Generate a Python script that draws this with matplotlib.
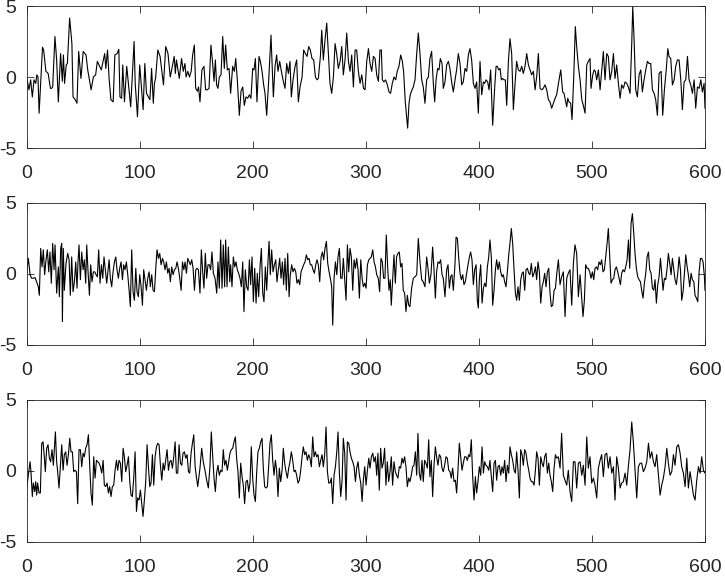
import matplotlib
matplotlib.use('Agg')
import matplotlib.pyplot as plt

plt.rcParams['font.family'] = ['Liberation Sans', 'DejaVu Sans']
plt.rcParams['axes.unicode_minus'] = False

# (sample index, value)
top_trace = [
    (0, 0.0), (2, -0.9), (3.5, -0.2), (5, -1.4), (6.5, -0.2), (8, -0.45), (9, 0.15), (10, 0.0),
    (11, -2.55), (14, 2.1), (15, 1.9), (17, 0.4), (19, 0.25), (21, -0.8), (22, -0.8), (23, -0.7),
    (25, 2.85), (26.5, 1.2), (28, -1.75), (30, 1.65), (31.5, -0.3), (32.5, 1.55), (33.5, -0.45),
    (35, 0.85), (36, 0.95), (38, 4.15), (40, 2.35), (41, -1.4), (43, -1.6), (44.5, -1.85),
    (46, 1.8), (48, -0.1), (50, 1.8), (52.5, 1.55), (54, 0.5), (57, -0.9), (59, 0.0), (61, 0.15),
    (62.5, 1.1), (64, 0.85), (66, 0.5), (69, 1.65), (70, 0.6), (71.5, 1.9), (73, -0.2),
    (74.5, -1.6), (76.5, -1.75), (78, 1.55), (80, 1.65), (81.5, 1.95), (82.5, -1.4), (84, -1.5),
    (85, 0.85), (86.5, -1.75), (88.5, 0.75), (90, -0.45), (92, -2.1), (95, 2.5), (96, -0.45),
    (98, -2.8), (100, 0.85), (103, -2.3), (104.5, 0.95), (106, -1.15), (109, -1.6), (110.5, 0.6),
    (112, -1.85), (113, -0.45), (114, -0.1), (116, 1.9), (118, 1.45), (121, -0.55), (123, 2.15),
    (125, 1.65), (127, 0.0), (128, 0.4), (130.5, 1.45), (131.5, 0.25), (132.5, 1.2), (135, -0.1),
    (137, 1.3), (138.5, 0.4), (140, 0.95), (141, 0.0), (142.5, 0.4), (144, 0.0), (145.5, 0.4),
    (146.8, 1.55), (148.3, 2.25), (149.5, -0.8), (151, -1.0), (152, -0.7), (153.3, -1.75),
    (155, 0.5), (156.8, 0.75), (158.3, -0.9), (159.8, -0.9), (161.3, -0.8), (163, 2.25),
    (164.5, 0.95), (165.7, -0.3), (166.9, 1.2), (168, -0.55), (169.2, -0.8), (170.4, 0.0),
    (171.9, 0.15), (173.4, 2.85), (174.8, 0.6), (176, 2.25), (177.5, 0.5), (179, 0.6),
    (180.4, -1.15), (182.2, 0.75), (183.7, 0.4), (184.9, 1.3), (186.3, -0.2), (188.1, -2.7),
    (189.6, -1.0), (191.1, -0.7), (192.5, -2.0), (194, -1.4), (195.5, -1.5), (197, -1.25),
    (198.4, -1.5), (199.9, 0.6), (201.1, 0.5), (202.3, 1.3), (203.7, -1.75), (205.5, 1.45),
    (206.7, 1.1), (208.2, 0.4), (209.6, -0.55), (210.8, -1.15), (212.3, -2.7), (214.1, -0.2),
    (216.1, 2.95), (218.2, -1.4), (219.7, 0.75), (221.1, 1.55), (222.3, 0.4), (223.8, 1.1),
    (225.3, 0.4), (227, -0.3), (228.5, -0.8), (230, 0.95), (231.5, 0.25), (232.9, 1.1),
    (234.1, -1.4), (235.6, -0.2), (237.4, 0.75), (238.8, 1.2), (240.3, -1.75), (241.8, -0.7),
    (243.6, 0.0), (245, 1.9), (246.5, 1.65), (248, 1.45), (249.5, 2.15), (250.9, 1.9),
    (252.4, 1.3), (253.9, 1.2), (255.4, 0.0), (256.8, -0.2), (258, -0.1), (259.8, 1.45),
    (261, 3.3), (262.4, 1.2), (263.9, 2.6), (265.4, 3.8), (266.9, 1.65), (268.3, -0.45),
    (269.8, -1.15), (271.3, 0.0), (272.8, 2.35), (274.2, 1.65), (275.7, 0.6), (277.2, 1.1),
    (278.7, 2.15), (280.1, 0.15), (281.6, 1.2), (283.1, 3.1), (284.6, 1.1), (286, 0.4),
    (287.5, 1.55), (289, -0.7), (290.5, 1.9), (291.9, 1.9), (293.4, 0.4), (294.9, -0.45),
    (296.4, 0.15), (297.9, -0.8), (299.3, -0.9), (300.8, 1.1), (302.3, 2.0), (303.7, 0.95),
    (305.2, 0.4), (306.7, 1.45), (308.2, 1.3), (309.6, 0.15), (311.1, -0.3),
    (312.5, 1.9), (313.7, 1.9), (314.6, -0.2), (316, -0.35), (317.5, -0.2), (319, -0.55),
    (320.5, -1.05), (321.9, -1.15), (323.4, -0.45), (324.9, 0.0), (326.4, -0.2), (327.8, 0.4),
    (329.3, 0.75), (330.8, 1.55), (332.3, 1.1), (333.4, 0.4), (334.9, -1.75), (336.1, -2.8),
    (337, -3.6), (338.2, -1.85), (339.3, -1.25), (340.8, -0.9), (342, -0.7), (343.5, -0.2),
    (345, 1.65), (346.4, 3.1), (347.9, 1.65), (349.4, -0.2), (350.8, -0.7), (352.3, -1.85),
    (353.8, -0.2), (355.3, 0.0), (356.7, 1.3), (358.2, 1.8), (359.7, -0.45), (360.9, -1.75),
    (362.1, -0.2), (363.5, 0.6), (364.7, 0.5), (365.9, 1.3), (367.4, 0.95), (368.5, -0.8),
    (370, -0.35), (371.5, 0.85), (373, 1.1), (374.4, 0.6), (375.9, -0.35), (377.4, -1.05),
    (378.9, -0.2), (380.3, 0.5), (381.8, 1.65), (383.3, 0.95), (384.8, -0.55), (386.2, -0.35),
    (387.7, 0.6), (389.2, 0.4), (390.7, 1.55), (392.1, 2.0), (393.6, 1.2), (395.1, -0.45),
    (396.6, -0.8), (398, -0.35), (399.5, -2.55), (401, 1.1), (402.5, -1.25), (404, -0.35),
    (405.1, -0.45), (406.3, -0.2), (407.8, -0.35), (409, -0.9), (410.4, 0.5), (412.2, -3.4),
    (414, -0.7), (415.2, 0.75), (416.3, 0.75), (417.5, 0.5), (418.7, 0.6), (419.9, -0.2),
    (421, -0.1), (422.2, -0.2), (423.4, -0.2), (424.6, -2.0), (426.1, 1.1), (427.5, 2.7),
    (429, 1.65), (430.5, -2.3), (432, -0.45), (433.4, 1.1), (434.9, 0.5), (436.4, 0.4),
    (437.9, 0.75), (439.3, 0.25), (440.8, 0.75), (442.3, 1.65), (443.8, 0.85), (445.2, 0.5),
    (446.7, 0.15), (448.2, 0.4), (449.7, -0.9), (451.1, 0.0), (452.6, 1.65), (454.1, -0.8),
    (455.6, -0.9), (457, -0.8), (458.5, -0.55), (460, -0.9), (461.5, -1.6), (462.9, -1.75),
    (464.4, -2.2), (465.9, -1.85), (467.4, -1.5), (468.8, -1.25),
    (470.9, -0.2), (472.4, 0.5), (473.2, -0.2), (474.1, -1.05), (475.3, -1.15), (476.2, -1.5),
    (477.7, -2.1), (478.6, -1.5), (479.7, -1.75), (481.2, -1.85), (482.4, -3.0), (483.9, 0.0),
    (485.3, 3.55), (486.5, 2.15), (488, 0.75), (489.5, -0.2), (491, -1.6), (492.4, -2.0),
    (493.9, -2.55), (495.4, 0.85), (496.8, 1.1), (498.3, 1.3), (499.2, -0.8), (500.7, 0.15),
    (501.9, 0.5), (503, 0.4), (504.2, -0.2), (505.7, 0.5), (507.2, -0.9), (508.6, 0.4),
    (510.1, 1.8), (511.6, -0.2), (513.1, 1.65), (514.5, 1.45), (516, -0.2), (517.5, 0.4),
    (519, 1.65), (520.4, -0.1), (521.9, 0.85), (523.4, -0.45), (524.9, -1.5), (526.3, -0.55),
    (527.8, -0.8), (529.3, -0.35), (530.8, -0.45), (532.2, -0.7), (533.7, -1.15), (535.2, 2.35),
    (536.1, 4.95), (537.3, 2.6), (538.7, -0.9), (540.2, -1.4), (541.7, 0.15), (543.2, 0.5),
    (544.6, -1.05), (546.1, -0.2), (547.6, 0.5), (549.1, 1.1), (550.5, 0.95), (552, 0.95),
    (553.5, -0.9), (555, -1.15), (556.4, -1.6), (557.9, -2.7), (559.4, 0.25), (561.2, 0.4),
    (562.6, -2.7), (564.1, -0.9), (565.6, 0.4), (567.1, 2.0), (568.2, 1.45), (569.7, 1.3),
    (571.2, -0.55), (572.7, -0.2), (574.1, 0.75), (575.6, 1.2), (577.1, 1.2), (578.6, -0.2),
    (580, -2.3), (581.5, -0.35), (583, -0.2), (584.5, 1.45), (585.9, -0.2), (587.4, -0.55),
    (588.9, -1.15), (590.4, -0.2), (591.8, -2.2), (593.3, -0.7), (594.8, -0.8), (596.3, -0.2),
    (597.7, -1.05), (599.2, -0.45), (600, -2.2),
]

middle_trace = [
    (0, 0.15), (1.5, 1.1), (3, -0.05), (4.4, -0.3), (5.9, -0.3), (7.4, -0.25), (8.8, -0.55),
    (10.3, -0.9), (11.2, -1.5), (12.4, 1.8), (13.6, 0.5), (14.7, 1.7), (15.9, -0.05), (17.1, 1.0),
    (18.3, 1.7), (19.5, 0.15), (20.6, 1.55), (21.8, -0.65), (23, 2.15), (24.2, 0.3), (25.1, 2.05),
    (26.5, -1.35), (28, 0.5), (28.9, -1.6), (30.1, 1.8), (31, 2.15), (31.6, -3.35), (32.4, 1.8),
    (33.3, -1.15), (34.8, 0.75), (36.3, 1.45), (37.5, 1.0), (38.6, -1.5), (39.8, 1.2),
    (41, -1.25), (42.2, -0.55), (43.4, 0.85), (44.5, -1.0), (45.4, 0.85), (46.3, 2.05),
    (47.5, -0.4), (48.7, 1.55), (49.9, 0.3), (51, 1.0), (52.2, -0.65), (53.1, 2.05), (54.3, 0.15),
    (55.5, -1.5), (56.6, 0.65), (57.8, -0.55), (59, 0.15), (60.2, 0.15), (61.4, -0.05),
    (62.5, -0.2), (63.7, 1.7), (64.9, -0.65), (66.1, 0.65), (67.3, -0.3), (68.4, 1.2), (69.6, 0.3),
    (70.8, -0.65), (72, 0.3), (72.9, 1.0), (74, -0.3), (75.2, -0.9), (76.4, 0.15), (77.6, 0.85),
    (78.8, 1.2), (79.9, 0.3), (81.1, -0.3), (82.3, 0.4), (83.5, 0.85), (84.7, -0.4), (85.8, 0.65),
    (87, 0.3), (88.2, 0.85), (89.4, -0.05), (90.6, -1.15), (91.7, -2.3), (92.9, 1.7),
    (94.1, -1.25), (95.3, -1.85), (96.5, 0.4), (97.6, -1.25), (98.8, -1.6), (100, -0.05),
    (101.2, -0.9), (102.4, -2.2), (103.5, 0.3), (104.7, -0.4), (105.9, -1.15), (107.1, -0.3),
    (108.3, 0.15), (109.4, -0.9), (110.6, -0.05), (111.8, -1.15), (113, -1.25), (114.2, 0.4),
    (115.3, 1.7), (116.5, 1.1), (117.7, 1.45), (118.9, 0.65), (120.1, 1.1), (121.2, 0.85),
    (122.4, 0.3), (123.6, 0.85), (124.8, 0.05), (126, 0.4), (127.1, -0.55), (128.3, 0.5),
    (129.5, -0.05), (130.7, 0.3), (131.9, 0.4), (133, 0.85), (134.2, 0.4), (135.4, -0.3),
    (136.6, -1.15), (137.8, 0.85), (139, 0.3), (140.1, 0.85), (141.3, 0.05), (142.5, 1.1),
    (143.7, 0.85), (144.8, 0.65), (146, 1.0), (147.2, 0.4), (148.4, -1.15), (149.6, 0.3),
    (150.7, 0.4), (151.9, 0.3),
    (153.3, -1.35), (154.5, 1.7), (155.7, 0.15), (156.8, -1.0), (158, 1.45), (159.2, -0.3),
    (160.4, 0.65), (161.6, 0.65), (162.7, 0.3), (163.9, 1.55), (165.1, 0.05), (166.6, -0.3),
    (168.1, -1.35), (169.2, 0.85), (170.4, -1.0), (171.6, 2.4), (172.8, -1.0), (173.9, 2.05),
    (175.1, -0.9), (176, 2.4), (177.2, -0.9), (178.4, 1.9), (179.6, -0.55), (180.4, 0.65),
    (181.6, -0.9), (182.8, 1.2), (184, 0.5), (185.2, 0.85), (186.3, 0.3), (187.5, 0.05),
    (188.7, -0.3), (189.9, -0.9), (191.1, 0.85), (192.2, -2.65), (193.4, 0.3), (194.6, -0.9),
    (195.8, -1.15), (197, 1.0), (198.1, -0.75), (199.3, 1.2), (200.5, -1.95), (201.7, 0.4),
    (202.9, -2.05), (204, 0.05), (205.2, -1.6), (206.4, 0.5), (207.6, 1.8), (208.8, -1.35),
    (209.9, -1.95), (211.1, 0.5), (212.3, -1.15), (213.5, 1.0), (214.4, 2.3), (215.5, -0.05),
    (216.7, 1.7), (217.9, 0.15), (219.1, 0.65), (220.3, 1.0), (221.4, -0.55), (222.6, 0.3),
    (223.8, 1.1), (225, -0.3), (226.2, 0.85), (227.3, -0.75), (228.5, 1.1), (229.7, -1.15),
    (230.9, 1.45), (232.1, -1.6), (233.2, -0.05), (234.4, 0.65), (235.6, 0.15), (236.8, 0.4),
    (238, 0.15), (239.1, -0.65), (240.3, -0.4), (241.5, -0.75), (242.7, 0.15), (243.9, 0.4),
    (245, 0.65), (246.2, 0.85), (247.4, 1.35), (248.6, 1.0), (249.8, 1.1), (250.9, 0.65),
    (252.1, 0.65), (253.3, 0.3), (254.5, 0.05), (255.7, 0.65), (256.8, 1.0), (258, 0.65),
    (259.2, -0.55), (260.4, 1.2), (261.6, 1.55), (262.7, 1.0), (263.9, 1.8), (265.1, 2.3),
    (266.3, 0.75), (267.5, 0.15), (268.6, -0.3), (269.8, -0.9), (270.7, -3.6), (271.9, -0.3),
    (273.1, 0.85), (274.3, -0.05), (275.4, 1.2), (276.6, 1.8), (277.8, -0.3), (279, -0.3),
    (280.1, 1.1), (281.3, -0.4), (282.5, -1.85), (283.7, 2.05), (284.9, 0.15), (286, 1.8),
    (287.2, 1.2), (288.4, -1.15), (289.6, 1.0), (290.8, 0.4), (291.9, 1.1), (293.1, 0.3),
    (294.3, -1.7), (295.5, 1.0), (296.7, -0.3), (297.8, -0.9), (299, -0.65), (300.2, -1.0),
    (301.4, 0.65), (302.6, 1.0), (303.7, 1.1), (304.9, 1.2), (306.1, 1.7), (307.3, 0.85),
    (308.5, 0.5), (309.6, -0.05),
    (311, -0.3), (312.2, -1.25), (313.4, 1.1), (314.6, 0.85), (315.7, -0.3), (316.9, -0.3),
    (318.1, 2.75), (319.3, 0.5), (320.5, -1.15), (321.6, -0.4), (322.5, -2.2), (323.7, -0.4),
    (324.9, 1.35), (326.1, -0.65), (327.2, 1.2), (328.4, 1.45), (329.6, 1.55), (330.8, 0.5),
    (332, 0.75), (333.1, -1.15), (334.3, -1.35), (335.5, -2.65), (336.7, -1.5), (337.9, -2.2),
    (339, -2.3), (340.5, -1.0), (342, -0.3), (343.5, -0.2), (345, -0.05), (346.4, 2.5),
    (347.9, 0.85), (349.4, -0.4), (350.8, -0.55), (352.3, -0.9), (353.8, 1.2), (355, 0.4),
    (356.2, -0.65), (357.6, -0.05), (359.1, 1.9), (360.3, 0.3), (361.5, -1.7), (362.6, 0.15),
    (363.8, 0.85), (365, 0.75), (366.2, 1.0), (367.4, -0.05), (368.5, -0.3), (370, -1.6),
    (371.5, 0.3), (372.7, 0.65), (373.9, -1.0), (375, -0.2), (376.2, -0.05), (377.4, -1.15),
    (378.9, 0.75), (379.8, 2.6), (381, 2.5), (382.1, 1.2), (383.3, 0.05), (384.5, -0.4),
    (385.7, -0.05), (386.8, -0.75), (388, -0.55), (389.2, 0.05), (390.4, 0.65), (391.6, 1.2),
    (392.7, 1.55), (393.9, 1.0), (395.1, -0.75), (396.3, 0.3), (397.5, 0.65), (398.6, -1.85),
    (399.5, -2.4), (400.4, -0.4), (401.6, 0.65), (402.8, -2.05), (404, -1.0), (405.1, -0.65),
    (406.3, -0.9), (407.5, 0.5), (408.7, 1.2), (409.8, 2.4), (411, 1.2), (412.2, -2.2),
    (413.4, -1.15), (414.6, 0.3), (415.7, 1.0), (416.9, 0.3), (418.1, 0.85), (419.3, 0.15),
    (420.5, -0.2), (421.6, -0.05), (422.8, -0.55), (424, -0.9), (425.2, 0.15), (426.4, 1.35),
    (427.5, 2.15), (428.7, 3.2), (429.9, 2.15), (431.1, 0.3), (432.3, -1.35), (433.4, -1.85),
    (434.6, -0.9), (435.8, -1.85), (437, -0.4), (438.2, 0.05), (439.3, 0.15), (440.5, -1.15),
    (441.7, 0.3), (442.9, 0.4), (444.1, 0.05), (445.2, -0.05), (446.4, 0.75), (447.6, -0.2),
    (448.8, 0.05), (450, 0.5), (451.1, -0.4), (452.3, 0.85), (453.5, 0.15), (454.7, -2.05),
    (455.9, -0.9), (457, -0.55), (458.2, 0.05), (459.4, -0.9), (460.6, 0.15), (461.8, 0.4),
    (462.9, -1.35), (464.1, -2.3), (465.3, -2.2), (466.5, -1.15), (467.7, -1.0), (468.8, -0.05),
    (470.3, 1.0), (471.8, -0.75), (473.2, -0.2), (474.7, 0.15), (476.2, -3.0), (477.7, -0.3),
    (479.1, 0.05), (480.6, 0.3), (482.1, -2.2), (483.6, 0.75), (485, 2.05), (486.5, 1.45),
    (488, -1.6), (489.5, -0.05), (491, -1.7), (492.1, -3.0), (493.3, -1.85), (494.5, 0.65),
    (495.7, 0.4), (496.8, 0.4), (498, 0.15), (499.2, -0.3), (500.4, 0.15), (501.6, -0.4),
    (502.7, 0.4), (503.9, 0.5), (505.1, 0.3), (506.3, 0.85), (507.5, 0.65), (508.6, 1.0),
    (509.8, 0.15), (511, 0.3), (512.2, 1.2), (513.4, 2.15), (514.5, 3.2), (515.7, 1.2),
    (516.9, -0.65), (518.1, -0.4), (519.3, -0.3), (520.4, 0.3), (521.6, 0.5), (522.8, 0.15),
    (524, -0.3), (525.2, -0.75), (526.3, 0.05), (527.5, 0.3), (528.7, 0.15), (529.9, 0.5),
    (531.1, 1.0), (532.3, 2.4), (533.4, 0.4), (534.6, 3.55), (535.8, 4.25), (537, 2.85),
    (538.1, 1.45), (539.3, 0.4), (540.5, -0.2), (541.7, -0.4), (542.9, -0.55), (544, -1.15),
    (545.2, -1.7), (546.4, -0.65), (547.6, 0.05), (548.8, 1.2), (550, 1.55), (551.1, 0.3),
    (552.3, 0.05), (553.5, -1.0), (554.7, -1.15), (555.8, -0.4), (557, -2.05), (558.2, -0.75),
    (559.4, -0.2), (560.6, 1.1), (561.7, 0.05), (562.9, -1.15), (564.1, -0.3), (565.3, -0.4),
    (566.5, 0.4), (567.6, 1.45), (568.8, 0.75), (570, -0.05), (571.2, 1.1), (572.4, 0.3),
    (573.5, -0.4), (574.7, -0.75), (575.9, 0.05), (577.1, 1.2), (578.3, 0.3), (579.4, -1.85),
    (580.6, -1.25), (581.8, 0.05), (583, 1.35), (584.2, 0.5), (585.3, -0.05), (586.5, -0.9),
    (587.7, 0.05), (588.9, -0.4), (590.1, -0.55), (591.2, -1.5), (592.4, -1.7), (593.6, -1.95),
    (594.8, 0.15), (596, 1.1), (597.1, 1.1), (598.3, 0.85), (599.5, -0.2), (600, -1.15),
]

bottom_trace = [
    (0, -1.2), (1.5, -0.3), (3, 0.65), (3.8, -0.05), (5, -1.8), (5.9, -0.85), (7.1, -1.45),
    (8, -0.75), (8.8, -1.7), (9.7, -0.85), (10.9, -1.55), (12.1, -1.55), (13.3, 1.95),
    (14.5, 2.05), (15.6, 1.0), (16.5, -0.05), (17.7, 1.6), (18.9, 1.85), (20.1, 0.9),
    (21.2, 0.65), (22.4, 1.5), (23.6, 0.4), (24.5, 1.6), (25.4, 2.75), (26.5, 0.65),
    (27.4, -0.05), (28.6, -1.2), (29.8, 0.3), (31, 1.85), (32.2, 0.05), (33.3, 1.15),
    (34.5, 1.35), (35.7, 0.4), (36.9, 1.15), (38.1, 2.3), (39.2, 1.35), (40.4, 1.35),
    (41.6, -0.05), (42.8, 0.05), (44, -0.05), (45.1, -2.3), (46.3, 1.5), (47.5, 1.5), (48.7, 0.3),
    (49.9, 1.25), (51, 1.0), (52.2, 1.6), (53.4, 1.85), (54.6, 2.55), (55.8, 0.3), (56.9, -1.55),
    (58.1, -2.4), (59.3, 1.0), (60.5, -0.5), (61.7, 0.75), (62.8, 0.65), (64, 0.55), (65.2, 0.3),
    (66.4, -0.15), (67.6, 0.75), (68.7, -1.0), (69.9, -1.1), (71.1, -0.85), (72.3, -1.55),
    (73.4, -1.1), (74.6, -1.8), (75.8, -1.1), (77, -1.0), (78.2, 0.05), (79.4, 0.75), (80.5, 0.05),
    (81.7, 0.75), (82.9, 0.55), (84.1, -0.75), (85.3, 1.6), (86.4, 1.0), (87.6, -0.05), (88.8, 0.4),
    (90, 1.0), (91.2, -0.75), (92.3, -1.7), (93.5, -1.8), (94.7, -0.5), (95.9, 1.35),
    (97.1, -2.85), (98.2, -1.9), (99.4, -2.05), (100.6, -1.35), (101.8, -2.3), (102.9, -3.2),
    (104.1, -2.05), (105.3, -0.75), (106.5, 1.85), (107.7, 0.3), (108.9, -1.1), (110, -0.85),
    (111.2, 1.15), (112.4, -1.0), (113.6, 1.0), (114.8, 1.7), (115.9, 1.95), (117.1, 1.85),
    (118.3, 0.4), (119.5, -0.65), (120.7, 0.55), (121.8, 0.05), (123, 0.75), (124.2, 1.5),
    (125.4, 0.05), (126.5, 0.65), (127.7, 0.75), (128.9, 0.2), (130.1, 1.0), (131.3, 2.05),
    (132.4, -0.15), (133.6, -0.15), (134.8, 1.85), (136, 0.55), (137.2, 0.4), (138.3, 1.25),
    (139.5, 1.35), (140.7, 0.9), (141.9, 1.15), (143.1, -0.05), (144.2, -0.15), (145.4, 1.25),
    (146.6, 1.95), (147.8, 2.55), (149, 0.3), (150.1, -0.4), (151.3, -1.1),
    (153.3, 0.2), (154.8, 1.6), (156.2, 0.65), (157.7, 0.05), (159.2, -0.65), (160.7, -1.2),
    (162.1, 0.3), (163.3, 2.75), (164.5, 1.15), (165.7, -0.5), (166.9, -1.45), (168, -0.15),
    (169.2, 0.4), (170.4, -0.3), (171.6, 0.05), (172.8, -0.05), (173.9, 1.5), (175.1, 0.4),
    (176.3, 0.75), (177.5, 0.05), (178.7, 0.65), (179.8, 1.25), (181, 1.5), (182.2, 1.6),
    (183.4, 2.05), (184.6, 2.4), (185.7, 0.9), (186.9, -0.05), (188.1, -1.9), (189.3, 0.55),
    (190.5, -0.4), (191.6, -1.0), (192.8, -2.3), (194, -0.75), (195.2, -0.65), (196.4, -1.45),
    (197.5, -0.85), (198.7, 1.7), (199.9, -0.5), (201.1, -1.7), (202.3, -2.15), (203.4, -0.15),
    (204.6, 1.35), (205.8, 1.6), (207, 2.05), (208.2, 2.3), (209.3, 0.2), (210.5, -1.1),
    (211.7, -1.2), (212.9, -1.1), (214.1, 0.4), (215.2, 1.95), (216.4, 2.55), (217.6, 0.75),
    (218.8, -0.3), (220, 0.75), (221.1, 0.05), (222.3, -1.8), (223.5, 0.2), (224.7, -0.75),
    (225.9, 0.05), (227, 1.6), (228.2, 0.55), (229.4, -0.05), (230.6, -0.5), (231.8, 0.2),
    (232.9, 0.65), (234.1, 1.35), (235.3, 0.75), (236.5, -0.05), (237.7, 0.05), (238.8, -0.3),
    (240, -0.85), (241.2, -0.65), (242.4, 0.05), (243.6, 1.0), (244.7, 1.7), (245.9, 1.15),
    (247.1, 1.35), (248.3, 0.75), (249.5, 1.15), (250.6, 0.9), (251.8, 0.3), (253, 2.4),
    (254.2, 1.0), (255.4, 1.35), (256.5, 1.0), (257.7, 1.15), (258.9, 0.3), (260.1, 0.75),
    (261.3, 1.15), (262.4, 0.3), (263.6, 1.15), (264.8, 3.1), (266, -0.05), (267.2, -0.85),
    (268.3, -0.85), (269.5, -0.5), (270.7, -2.3), (271.9, -0.3), (273.1, 0.3), (274.3, 1.35),
    (275.4, 2.75), (276.6, -0.15), (277.8, -1.8), (279, -0.65), (280.1, 2.3), (281.3, 1.25),
    (282.5, -2.05), (283.7, 2.05), (284.9, 1.95), (286, 1.35), (287.2, 0.9), (288.4, 0.65),
    (289.6, 0.3), (290.8, -0.75), (291.9, 0.2), (293.1, 0.65), (294.3, -0.3), (295.5, -0.85),
    (296.7, -2.15), (297.8, -0.65), (299, 0.3), (300.2, -1.0), (301.4, 0.05), (302.6, 0.9),
    (303.7, 0.2), (304.9, 1.0), (306.1, 1.25), (307.3, 0.65), (308.5, 1.0), (309.6, -0.3),
    (310.7, 1.25), (311.9, -1.35), (313.1, 1.6), (314.3, 0.2), (315.4, 0.55), (316.6, 1.6),
    (317.8, -1.0), (319, 0.65), (320.2, -0.75), (321.4, -0.05), (322.5, 1.0), (323.7, -1.0),
    (324.9, 0.65), (326.1, -0.05), (327.2, -0.3), (328.4, -0.5), (329.6, 0.3), (330.8, 0.2),
    (332, 0.9), (333.1, 0.55), (334.3, 1.0), (335.5, 0.3), (336.7, -1.1), (337.9, -0.5),
    (339, -0.75), (340.2, -0.3), (341.4, 0.3), (342.6, 0.4), (343.8, 1.35), (345, -0.3),
    (346.1, 2.65), (347.3, -0.15), (348.5, -0.65), (349.7, 0.75), (350.8, -0.75), (352, 0.75),
    (353.2, 0.55), (354.4, 0.2), (355.6, 2.2), (356.7, -0.4), (357.9, 0.75), (359.1, -1.8),
    (360.3, 0.4), (361.5, 1.7), (362.6, 1.0), (363.8, 0.4), (365, 1.15), (366.2, 1.0),
    (367.4, 0.2), (368.5, -0.05), (369.7, 0.4), (370.9, 1.0), (372.1, 0.9), (373.3, 0.05),
    (374.4, -0.05), (375.6, -0.5), (376.8, 0.2), (378, -0.75), (379.2, -0.65), (380.3, -1.55),
    (381.5, 0.05), (382.7, 1.95), (383.9, 1.0), (385.1, 0.05), (386.2, 0.55), (387.4, 1.0),
    (388.6, 1.0), (389.8, 0.75), (391, 1.15), (392.1, 1.0), (393.3, 2.2), (394.5, -0.4),
    (395.7, -2.05), (396.9, -0.4), (398, -1.55), (399.2, -0.75), (400.4, 0.3), (401.6, -0.3),
    (402.8, 1.7), (404, -0.15), (405.1, 0.65), (406.3, 0.4), (407.5, 0.3), (408.7, 0.05),
    (409.8, 0.75), (411, -0.4), (412.2, -1.45), (413.4, 0.55), (414.6, 0.75), (415.7, -0.65),
    (416.9, 0.3), (418.1, 0.4), (419.3, -0.3), (420.5, 0.3), (421.6, -0.15), (422.8, 0.75),
    (424, -0.75), (425.2, 0.4), (426.4, -0.15), (427.5, 1.7), (428.7, 1.15), (429.9, 0.75),
    (431.1, 0.05), (432.3, -0.15), (433.4, 1.35), (434.6, 0.05), (435.8, -1.9), (437, 1.5),
    (438.2, 1.15), (439.3, 0.4), (440.5, 1.5), (441.7, 1.25), (442.9, 0.55), (444.1, 0.05),
    (445.2, -0.5), (446.4, -0.75), (447.6, -0.75), (448.8, -1.0), (450, 0.05), (451.1, 1.35),
    (452.3, 0.9), (453.5, -1.0), (454.7, 1.0), (455.9, 0.55), (457, 0.3), (458.2, 1.0),
    (459.4, 1.25), (460.6, -0.15), (461.8, 0.55), (462.9, -0.3), (464.1, -0.75), (465.3, -1.45),
    (466.5, 0.2), (467.7, 1.15), (468.8, 0.9),
    (470.3, 1.0), (471.8, 0.2), (473.2, 2.65), (474.7, -0.3), (476.2, -0.65), (477.7, -1.0),
    (479.1, 0.05), (480.6, -1.45), (482.1, -2.15), (483.6, 0.65), (485, 0.65), (486.5, -1.2),
    (488, 0.55), (489.5, 0.65), (491, -0.3), (492.4, 0.4), (493.9, -1.0), (495.4, 2.4),
    (496.8, 0.2), (498.3, 1.0), (499.8, -0.85), (501.3, -0.5), (502.7, -1.0), (504.2, -1.9),
    (505.7, 0.2), (507.2, 0.75), (508.6, 1.15), (510.1, -0.4), (511.6, 1.15), (513.1, 1.25),
    (514.5, 0.2), (516, 1.0), (517.5, -0.15), (519, 0.3), (520.4, -2.05), (521.9, 1.0),
    (523.4, 0.2), (524.9, -1.2), (526.3, -0.85), (527.8, -0.75), (529.3, -0.15), (530.8, -1.0),
    (532.2, 0.3), (533.7, 1.5), (535.2, 3.45), (536.7, 1.95), (538.1, 0.05), (539.6, -1.9),
    (541.1, 0.3), (542.6, 0.55), (544, 0.55), (545.5, -0.05), (547, 0.2), (548.5, 0.65),
    (550, 1.95), (551.4, 0.9), (552.9, 1.35), (554.4, 0.65), (555.8, 0.3), (557.3, 1.15),
    (558.8, -0.3), (560.3, -1.7), (561.7, -1.0), (563.2, -0.5), (564.7, 0.3), (566.2, 1.6),
    (567.6, 0.55), (569.1, -0.3), (570.6, -0.05), (572.1, 1.15), (573.5, 0.4), (575, 1.7),
    (576.5, 1.85), (578, 1.25), (579.4, 0.3), (580.9, -0.15), (582.4, -1.1), (583.9, 0.9),
    (585.3, -1.2), (586.8, -0.05), (588.3, -0.85), (589.8, -1.7), (591.2, -2.05), (592.7, -0.65),
    (594.2, 0.3), (595.7, -0.15), (597.1, 1.0), (598.6, 0.05), (600, -0.15),
]

x_ticks = [0, 100, 200, 300, 400, 500, 600]
y_ticks = [-5, 0, 5]
x_range = (0, 600)
y_range = (-5, 5)

fig = plt.figure(figsize=(7.25, 5.77), dpi=100)

panel_bottoms = [0.7435, 0.4021, 0.0607]
left, width, height = 0.0368, 0.9356, 0.2461

for trace, bottom in zip([top_trace, middle_trace, bottom_trace], panel_bottoms):
    ax = fig.add_axes([left, bottom, width, height])
    t = [p[0] for p in trace]
    v = [p[1] for p in trace]
    ax.plot(t, v, color='black', linewidth=0.8)
    ax.set_xlim(*x_range)
    ax.set_ylim(*y_range)
    ax.set_xticks(x_ticks)
    ax.set_yticks(y_ticks)
    ax.set_xticklabels([str(x) for x in x_ticks])
    ax.set_yticklabels([str(y) for y in y_ticks])
    ax.tick_params(direction='in', top=True, right=True, length=4.9, width=0.6,
                   labelsize=14, colors='#262626')
    ax.tick_params(axis='x', pad=12)
    ax.tick_params(axis='y', pad=7.5)
    for s in ax.spines.values():
        s.set_linewidth(0.6)
        s.set_color('#262626')

fig.savefig('out.png', dpi=100)
